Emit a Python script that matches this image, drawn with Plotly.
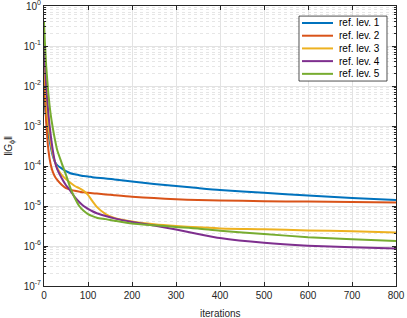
import plotly.graph_objects as go

iterations = [0, 2, 5, 10, 15, 20, 25, 30, 40, 50, 60, 70, 80, 90, 100, 110, 120,
              140, 160, 200, 250, 300, 350, 400, 500, 600, 700, 800]

lev1 = [5.0e-3, 3.16e-3, 1.58e-3, 6.3e-4, 3.16e-4, 1.78e-4, 1.26e-4, 1.05e-4, 8.7e-5, 7.4e-5,
        6.6e-5, 6.2e-5, 5.9e-5, 5.6e-5, 5.5e-5, 5.25e-5, 5.1e-5, 4.9e-5, 4.6e-5, 4.1e-5,
        3.55e-5, 3.16e-5, 2.8e-5, 2.5e-5, 2.14e-5, 1.82e-5, 1.58e-5, 1.41e-5]
lev2 = [2.0e-2, 6.3e-3, 1.26e-3, 2.5e-4, 1.12e-4, 7.1e-5, 5.4e-5, 4.5e-5, 3.4e-5, 2.8e-5,
        2.57e-5, 2.4e-5, 2.29e-5, 2.19e-5, 2.14e-5, 2.09e-5, 2.04e-5, 1.95e-5, 1.86e-5, 1.7e-5,
        1.58e-5, 1.48e-5, 1.41e-5, 1.38e-5, 1.32e-5, 1.29e-5, 1.26e-5, 1.23e-5]
lev3 = [1.0e-1, 2.5e-2, 5.0e-3, 1.0e-3, 4.0e-4, 2.0e-4, 1.26e-4, 8.9e-5, 6.0e-5, 4.7e-5,
        3.8e-5, 3.16e-5, 2.8e-5, 2.4e-5, 1.9e-5, 1.32e-5, 9.5e-6, 6.3e-6, 5.0e-6, 4.1e-6,
        3.5e-6, 3.16e-6, 2.95e-6, 2.75e-6, 2.63e-6, 2.45e-6, 2.34e-6, 2.19e-6]
lev4 = [1.0e-1, 4.0e-2, 1.0e-2, 2.0e-3, 6.3e-4, 2.5e-4, 1.26e-4, 8.3e-5, 5.0e-5, 3.3e-5,
        2.4e-5, 1.66e-5, 1.26e-5, 1.0e-5, 8.5e-6, 7.4e-6, 6.6e-6, 5.6e-6, 4.9e-6, 4.0e-6,
        3.24e-6, 2.57e-6, 2.0e-6, 1.58e-6, 1.2e-6, 1.02e-6, 9.3e-7, 8.7e-7]
lev5 = [4.0e-1, 1.26e-1, 3.16e-2, 6.3e-3, 2.0e-3, 8.9e-4, 4.5e-4, 2.5e-4, 1.2e-4, 6.0e-5,
        2.8e-5, 1.58e-5, 1.0e-5, 7.6e-6, 6.3e-6, 5.6e-6, 5.1e-6, 4.7e-6, 4.3e-6, 3.65e-6,
        3.3e-6, 3.0e-6, 2.75e-6, 2.4e-6, 2.0e-6, 1.66e-6, 1.48e-6, 1.33e-6]

series = [lev1, lev2, lev3, lev4, lev5]
names = ["ref. lev. 1", "ref. lev. 2", "ref. lev. 3", "ref. lev. 4", "ref. lev. 5"]
colors = ["#0072BD", "#D95319", "#EDB120", "#7E2F8E", "#77AC30"]

x_ticks = [0, 100, 200, 300, 400, 500, 600, 700, 800]
y_exponents = [-7, -6, -5, -4, -3, -2, -1, 0]
y_ticks = [10.0 ** e for e in y_exponents]
y_ticktext = [f"10<sup>{e}</sup>" for e in y_exponents]

fig = go.Figure()
for ys, nm, c in zip(series, names, colors):
    fig.add_trace(go.Scatter(x=iterations, y=ys, name=nm, mode="lines", showlegend=False,
                             line=dict(color=c, width=2, shape="spline", smoothing=0.6)))

fam = "Liberation Sans, Arial, sans-serif"
font = dict(family=fam, size=10, color="#262626")

fig.update_layout(
    width=407, height=318,
    margin=dict(l=44, r=11, t=6, b=32, autoexpand=False),
    paper_bgcolor="white", plot_bgcolor="white",
    font=font,
    showlegend=False,
)

fig.update_xaxes(
    range=[0, 800], tickvals=x_ticks, ticktext=[str(v) for v in x_ticks],
    showline=True, linecolor="#262626", linewidth=1, mirror="ticks",
    ticks="inside", ticklen=4, tickcolor="#262626",
    showgrid=True, gridcolor="#e3e3e3", gridwidth=1,
    zeroline=False, automargin=False, ticklabeloverflow="allow",
)

fig.update_yaxes(
    type="log", range=[-7, 0], tickvals=y_ticks, ticktext=y_ticktext,
    showline=True, linecolor="#262626", linewidth=1, mirror="ticks",
    ticks="inside", ticklen=4, tickcolor="#262626",
    showgrid=True, gridcolor="#e3e3e3", gridwidth=1,
    zeroline=False, automargin=False, ticklabeloverflow="allow",
    minor=dict(ticks="inside", ticklen=2, tickcolor="#262626", showgrid=True,
               gridcolor="#e6e6e6", griddash="dot", gridwidth=1, dtick="D1"),
)

# axis titles
fig.add_annotation(text="iterations", x=0.5, y=-0.071, xref="paper", yref="paper",
                   xanchor="center", yanchor="top", showarrow=False, font=font)
fig.add_annotation(text="‖<i>G</i><sub>ϕ</sub>‖", x=-0.1, y=0.5, xref="paper", yref="paper",
                   xanchor="center", yanchor="middle", showarrow=False, textangle=-90, font=font)

# legend box (drawn in paper coordinates)
box_x0, box_x1, box_y0, box_y1 = 0.7244, 0.9744, 0.732, 0.964
fig.add_shape(type="rect", xref="paper", yref="paper", x0=box_x0, x1=box_x1, y0=box_y0, y1=box_y1,
              line=dict(color="#262626", width=0.8), fillcolor="white", layer="above")
row_top, row_step = 0.9393, 0.0454
for i, (nm, c) in enumerate(zip(names, colors)):
    yy = row_top - i * row_step
    fig.add_shape(type="line", xref="paper", yref="paper", x0=0.733, x1=0.821, y0=yy, y1=yy,
                  line=dict(color=c, width=2), layer="above")
    fig.add_annotation(text=nm, x=0.832, y=yy, xref="paper", yref="paper", xanchor="left",
                       yanchor="middle", showarrow=False,
                       font=dict(family=fam, size=10, color="black"))

fig.write_html("out.html", config={"displayModeBar": False},
               post_script="document.body.style.margin='0';document.body.style.overflow='hidden';")
